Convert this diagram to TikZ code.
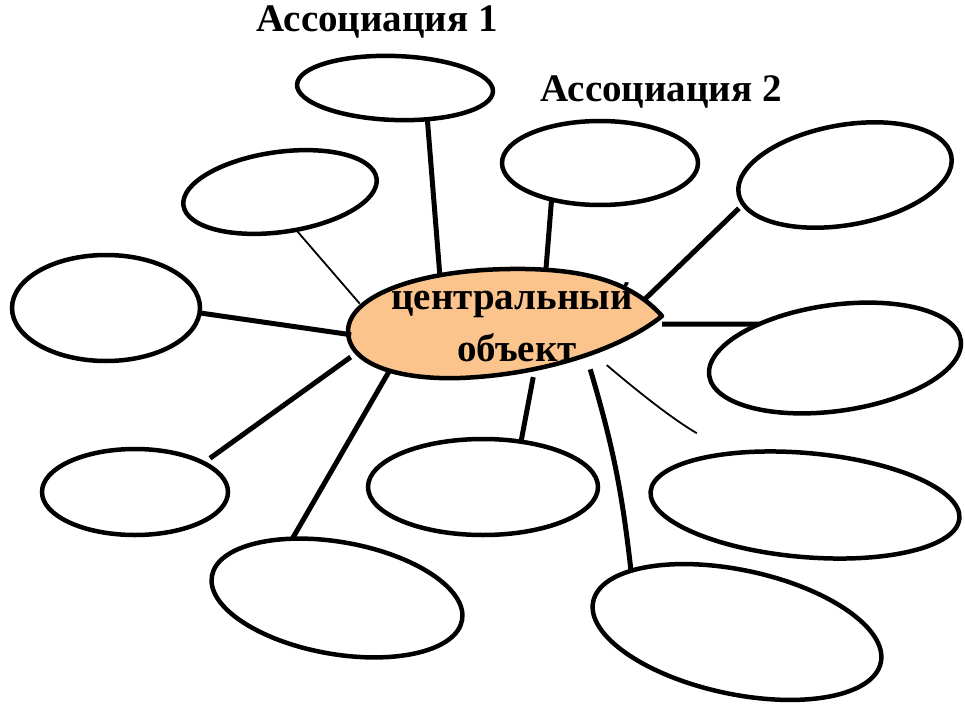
\documentclass[tikz,border=0pt]{standalone}
\usepackage{fontspec}
\setmainfont{Liberation Serif}
\usetikzlibrary{shapes.geometric}
\definecolor{peach}{RGB}{250,196,140}
\begin{document}
\begin{tikzpicture}[x=1pt,y=-1pt,
  bub/.style={ellipse, draw, line width=4.5pt, inner sep=0pt, outer sep=0pt},
  thk/.style={line width=5pt},
  thn/.style={line width=1.8pt},
  lbl/.style={font=\bfseries\fontsize{39}{44}\selectfont, inner sep=0pt},
  ctext/.style={font=\bfseries\fontsize{39}{44}\selectfont, inner sep=0pt}]
\useasboundingbox (0,0) rectangle (965,706);
% central object
\draw[fill=peach, line width=4.5pt, line join=round]
  (662,316) .. controls (630,280) and (580,268) .. (510,269)
  .. controls (420,270) and (350,295) .. (348,330)
  .. controls (347,365) and (400,380) .. (460,378)
  .. controls (540,375) and (620,350) .. cycle;
\node[ellipse, minimum width=314pt, minimum height=108pt, inner sep=0pt, outer sep=0pt] (c) at (505,324) {};
\node[ctext] (t1) at (512,300) {центральный};
\node[ctext] (t2) at (517,348) {объект};
% bubbles
\node[bub, minimum width=196pt, minimum height=64pt, rotate=-2] (b1) at (395,88) {};
\node[bub, minimum width=195pt, minimum height=80pt, rotate=8] (b2) at (280,192) {};
\node[bub, minimum width=188pt, minimum height=106pt] (b3) at (106,308) {};
\node[bub, minimum width=186pt, minimum height=86pt] (b4) at (135,492) {};
\node[bub, minimum width=254pt, minimum height=112pt, rotate=-10] (b5) at (337,598) {};
\node[bub, minimum width=230pt, minimum height=96pt] (b6) at (483,487) {};
\node[bub, minimum width=294pt, minimum height=124pt, rotate=-12] (b7) at (737,632) {};
\node[bub, minimum width=310pt, minimum height=104pt, rotate=-5] (b8) at (805,505) {};
\node[bub, minimum width=254pt, minimum height=106pt, rotate=8] (b9) at (835,358) {};
\node[bub, minimum width=216pt, minimum height=100pt, rotate=10] (b10) at (845,175) {};
\node[bub, minimum width=196pt, minimum height=84pt] (b11) at (600,163) {};
% labels
\node[lbl] (l1) at (377,22) {Ассоциация 1};
\node[lbl] (l2) at (661,92) {Ассоциация 2};
% connectors
\draw[thk] (b1.-42) -- (c.143);
\draw[thn] (b2.-75) -- (c.172);
\draw[thk] (b3.-3) -- (c.184);
\draw[thk, shorten <=8pt] (b4.23) -- ([xshift=-24pt,yshift=-3pt]c.193);
\draw[thk] (b5.137) -- ([xshift=-14pt,yshift=-6pt]c.202);
\draw[thk] (b6.50) -- (c.-62);
\draw[thk] (b7.162) to[bend right=5] (c.-28);
\draw[thn, shorten <=40pt] (b8.150) to[bend left=5] (c.-22);
\draw[thk] (b9.148) -- (c.0);
\draw[thk, shorten <=6pt] (b10.186) -- (c.10);
\draw[thk] (b11.217) -- (c.52);
\end{tikzpicture}
\end{document}
